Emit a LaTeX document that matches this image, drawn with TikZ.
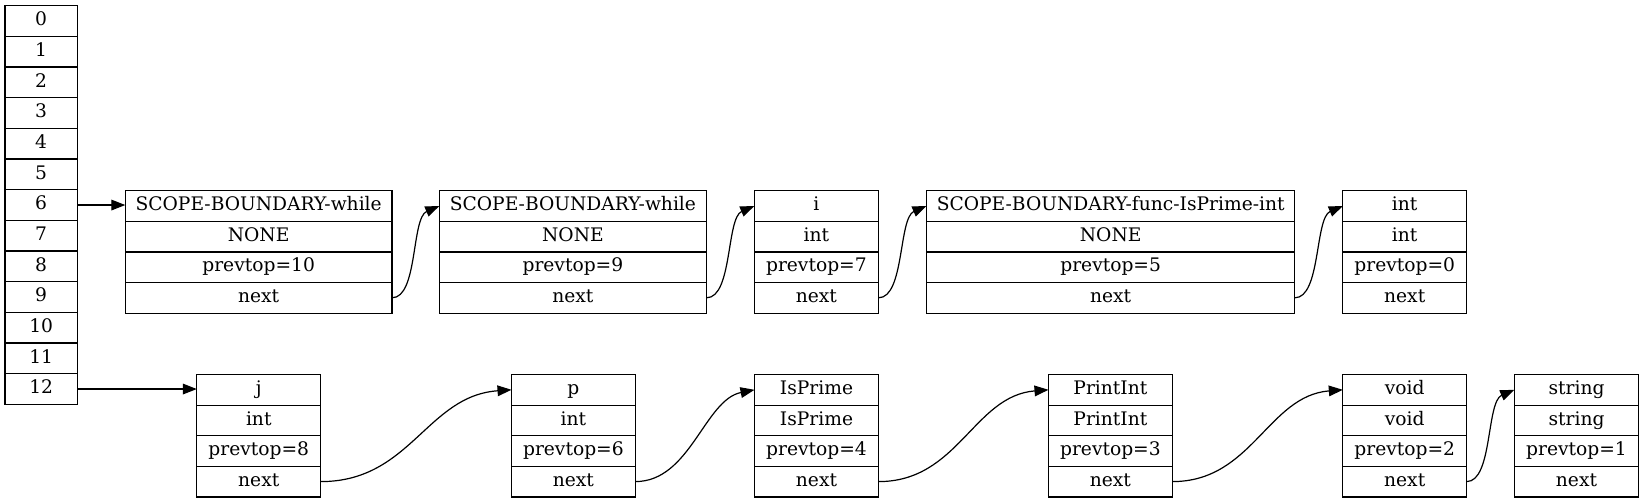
\documentclass[tikz,border=0pt]{standalone}
\usepackage{fontspec}
\setmainfont{DejaVu Serif}
\usetikzlibrary{arrows.meta}
\tikzset{
  field/.style={draw, line width=0.9pt, inner sep=0pt, outer sep=0pt,
    minimum height=22.95pt, text height=10pt, text depth=3pt,
    font=\fontsize{14pt}{17pt}\selectfont},
  arrfield/.style={field, minimum width=54.2pt, minimum height=23pt},
  link/.style={line width=0.9pt, -{Triangle[length=10.5pt,width=8pt]}},
}
\newcommand\recbox[8]{%
  \node[field, minimum width=#4*0.75pt, anchor=north west] (#1a) at (#2,#3) {#5};
  \node[field, minimum width=#4*0.75pt, anchor=north] (#1b) at (#1a.south) {#6};
  \node[field, minimum width=#4*0.75pt, anchor=north] (#1c) at (#1b.south) {#7};
  \node[field, minimum width=#4*0.75pt, anchor=north] (#1d) at (#1c.south) {#8};
}
\begin{document}
\begin{tikzpicture}[x=0.75pt, y=-0.75pt]
\useasboundingbox (0,0) rectangle (1644,503);
% array
\node[arrfield, anchor=north west] (a0) at (5,5.7) {0};
\node[arrfield, anchor=north] (a1) at (a0.south) {1};
\node[arrfield, anchor=north] (a2) at (a1.south) {2};
\node[arrfield, anchor=north] (a3) at (a2.south) {3};
\node[arrfield, anchor=north] (a4) at (a3.south) {4};
\node[arrfield, anchor=north] (a5) at (a4.south) {5};
\node[arrfield, anchor=north] (a6) at (a5.south) {6};
\node[arrfield, anchor=north] (a7) at (a6.south) {7};
\node[arrfield, anchor=north] (a8) at (a7.south) {8};
\node[arrfield, anchor=north] (a9) at (a8.south) {9};
\node[arrfield, anchor=north] (a10) at (a9.south) {10};
\node[arrfield, anchor=north] (a11) at (a10.south) {11};
\node[arrfield, anchor=north] (a12) at (a11.south) {12};
% top row
\recbox{t1}{125.3}{190.7}{266.7}{SCOPE-BOUNDARY-while}{NONE}{prevtop=10}{next}
\recbox{t2}{439.3}{190.7}{267.2}{SCOPE-BOUNDARY-while}{NONE}{prevtop=9}{next}
\recbox{t3}{754.3}{190.7}{124.2}{i}{int}{prevtop=7}{next}
\recbox{t4}{926.5}{190.7}{368.3}{SCOPE-BOUNDARY-func-IsPrime-int}{NONE}{prevtop=5}{next}
\recbox{t5}{1342.8}{190.7}{123.8}{int}{int}{prevtop=0}{next}
% bottom row
\recbox{u1}{196.8}{374.5}{123.9}{j}{int}{prevtop=8}{next}
\recbox{u2}{511.5}{374.5}{123.8}{p}{int}{prevtop=6}{next}
\recbox{u3}{754.5}{374.5}{124}{IsPrime}{IsPrime}{prevtop=4}{next}
\recbox{u4}{1048.5}{374.5}{123.8}{PrintInt}{PrintInt}{prevtop=3}{next}
\recbox{u5}{1342.8}{374.5}{123.8}{void}{void}{prevtop=2}{next}
\recbox{u6}{1514.3}{374.5}{124.4}{string}{string}{prevtop=1}{next}
% links
\draw[link] (a6.east) -- (a6.east -| t1a.west);
\draw[link] (a12.east) -- (a12.east -| u1a.west);
\draw[link] (t1d.east) .. controls +(26,0) and +(-28,12) .. (t2a.west);
\draw[link] (t2d.east) .. controls +(26,0) and +(-28,12) .. (t3a.west);
\draw[link] (t3d.east) .. controls +(26,0) and +(-28,12) .. (t4a.west);
\draw[link] (t4d.east) .. controls +(26,0) and +(-28,12) .. (t5a.west);
\draw[link] (u1d.east) .. controls +(90,0) and +(-85,6) .. (u2a.west);
\draw[link] (u2d.east) .. controls +(55,0) and +(-50,10) .. (u3a.west);
\draw[link] (u3d.east) .. controls +(80,0) and +(-75,6) .. (u4a.west);
\draw[link] (u4d.east) .. controls +(80,0) and +(-75,6) .. (u5a.west);
\draw[link] (u5d.east) .. controls +(26,0) and +(-28,12) .. (u6a.west);
\end{tikzpicture}
\end{document}
